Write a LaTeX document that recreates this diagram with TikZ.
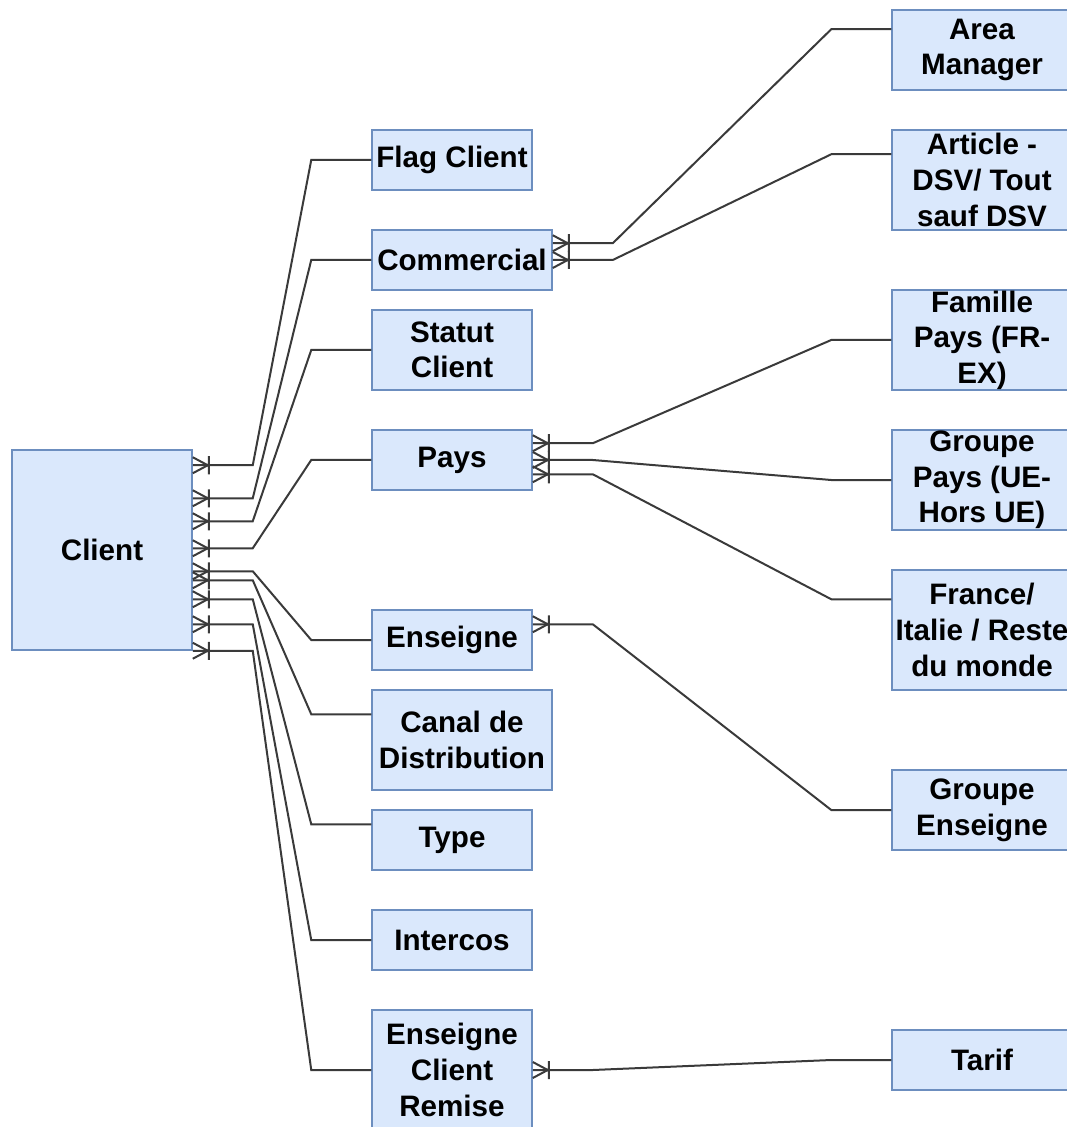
\documentclass[tikz,border=0pt]{standalone}
\usepackage{fontspec}
\setmainfont{Liberation Sans}
\usetikzlibrary{calc}

\definecolor{entfill}{HTML}{DAE8FC}
\definecolor{entline}{HTML}{6C8EBF}
\definecolor{relline}{HTML}{3A3A3A}

\pgfdeclarearrow{
  name = crowbar,
  setup code = {
    \pgfarrowssettipend{0pt}
    \pgfarrowssetlineend{0pt}
    \pgfarrowssetbackend{-8.5pt}
    \pgfarrowshullpoint{0pt}{4.5pt}
    \pgfarrowshullpoint{0pt}{-4.5pt}
    \pgfarrowshullpoint{-8.5pt}{0pt}
  },
  drawing code = {
    \pgfsetdash{}{0pt}
    \pgfpathmoveto{\pgfqpoint{0pt}{4pt}}
    \pgfpathlineto{\pgfqpoint{-7.5pt}{0pt}}
    \pgfpathlineto{\pgfqpoint{0pt}{-4pt}}
    \pgfpathmoveto{\pgfqpoint{-8pt}{4.5pt}}
    \pgfpathlineto{\pgfqpoint{-8pt}{-4.5pt}}
    \pgfusepathqstroke
  }
}

\begin{document}
\begin{tikzpicture}[
  x=0.5pt, y=-0.5pt,
  entity/.style={draw=entline, fill=entfill, line width=0.75pt, minimum width=80pt, minimum height=30pt, inner sep=0pt, align=center, font=\bfseries\fontsize{14.8}{17.8}\selectfont},
  wide/.style={minimum width=90pt},
  rel/.style={draw=relline, line width=1pt, arrows={crowbar-}}
]
  \useasboundingbox (0,0) rectangle (1066,1127);

  \node[entity, wide, minimum height=100pt] (client) at (102,550) {Client};

  \node[entity] (flag) at (452,160) {Flag Client};
  \node[entity, wide] (commercial) at (462,260) {Commercial};
  \node[entity, minimum height=40pt] (statut) at (452,350) {Statut\\Client};
  \node[entity] (pays) at (452,460) {Pays};
  \node[entity] (enseigne) at (452,640) {Enseigne};
  \node[entity, wide, minimum height=50pt] (canal) at (462,740) {Canal de\\Distribution};
  \node[entity] (type) at (452,840) {Type};
  \node[entity] (intercos) at (452,940) {Intercos};
  \node[entity, minimum height=60pt] (remise) at (452,1070) {Enseigne\\Client\\Remise};

  \node[entity, wide, minimum height=40pt] (area) at (982,50) {Area\\Manager};
  \node[entity, wide, minimum height=50pt] (article) at (982,180) {Article -\\DSV/ Tout\\sauf DSV};
  \node[entity, wide, minimum height=50pt] (famille) at (982,340) {Famille\\Pays (FR-\\EX)};
  \node[entity, wide, minimum height=50pt] (groupepays) at (982,480) {Groupe\\Pays (UE-\\Hors UE)};
  \node[entity, wide, minimum height=60pt] (monde) at (982,630) {France/\\Italie / Reste\\du monde};
  \node[entity, wide, minimum height=40pt] (groupeens) at (982,810) {Groupe\\Enseigne};
  \node[entity, wide] (tarif) at (982,1060) {Tarif};

  \draw[rel] ($(client.north east)+(0,16)$) -- ++(60,0) -- ($(flag.west)+(-60,0)$) -- (flag.west);
  \draw[rel] ($(client.north east)+(0,49)$) -- ++(60,0) -- ($(commercial.west)+(-60,0)$) -- (commercial.west);
  \draw[rel] ($(client.north east)+(0,72)$) -- ++(60,0) -- ($(statut.west)+(-60,0)$) -- (statut.west);
  \draw[rel] ($(client.north east)+(0,99)$) -- ++(60,0) -- ($(pays.west)+(-60,0)$) -- (pays.west);
  \draw[rel] ($(client.north east)+(0,122)$) -- ++(60,0) -- ($(enseigne.west)+(-60,0)$) -- (enseigne.west);
  \draw[rel] ($(client.north east)+(0,131)$) -- ++(60,0) -- ($(canal.north west)+(-60,25)$) -- ($(canal.north west)+(0,25)$);
  \draw[rel] ($(client.north east)+(0,150)$) -- ++(60,0) -- ($(type.north west)+(-60,15)$) -- ($(type.north west)+(0,15)$);
  \draw[rel] ($(client.north east)+(0,175)$) -- ++(60,0) -- ($(intercos.west)+(-60,0)$) -- (intercos.west);
  \draw[rel] (client.south east) -- ++(60,0) -- ($(remise.west)+(-60,0)$) -- (remise.west);

  \draw[rel] ($(commercial.north east)+(0,14)$) -- ++(60,0) -- ($(area.north west)+(-60,20)$) -- ($(area.north west)+(0,20)$);
  \draw[rel] (commercial.east) -- ++(60,0) -- ($(article.north west)+(-60,25)$) -- ($(article.north west)+(0,25)$);

  \draw[rel] ($(pays.north east)+(0,14)$) -- ++(60,0) -- ($(famille.west)+(-60,0)$) -- (famille.west);
  \draw[rel] (pays.east) -- ++(60,0) -- ($(groupepays.west)+(-60,0)$) -- (groupepays.west);
  \draw[rel] ($(pays.north east)+(0,45)$) -- ++(60,0) -- ($(monde.north west)+(-60,30)$) -- ($(monde.north west)+(0,30)$);

  \draw[rel] ($(enseigne.north east)+(0,15)$) -- ++(60,0) -- ($(groupeens.west)+(-60,0)$) -- (groupeens.west);
  \draw[rel] (remise.east) -- ++(60,0) -- ($(tarif.west)+(-60,0)$) -- (tarif.west);
\end{tikzpicture}
\end{document}
